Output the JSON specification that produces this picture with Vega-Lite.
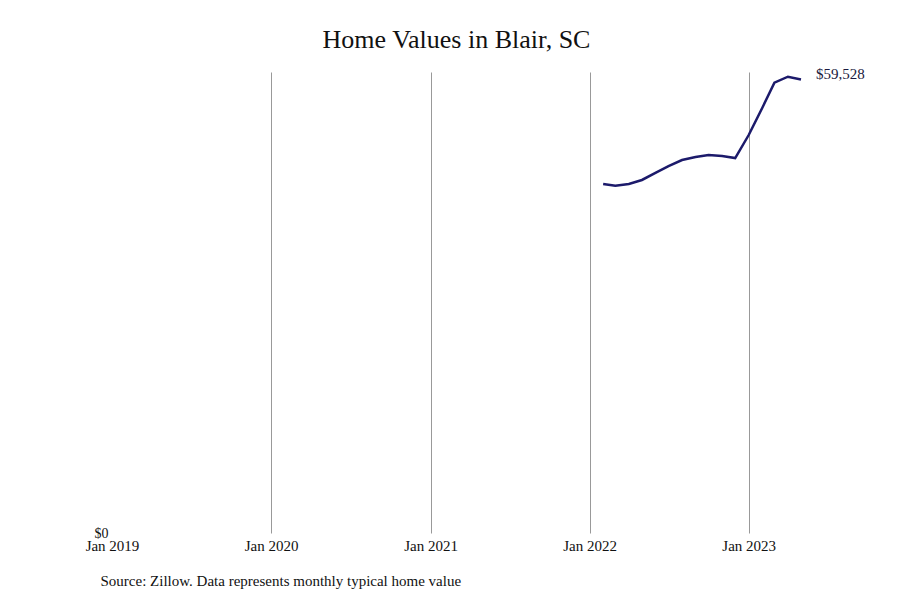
{
  "$schema": "https://vega.github.io/schema/vega-lite/v6.json",
  "autosize": "none",
  "padding": {"left": 112, "top": 72, "right": 99, "bottom": 67},
  "width": 689,
  "height": 461,
  "background": "white",
  "title": {
    "text": "Home Values in Blair, SC",
    "font": "Liberation Serif",
    "fontSize": 26,
    "fontWeight": "normal",
    "color": "#111111",
    "anchor": "middle",
    "offset": 14
  },
  "data": {
    "values": [
      {"date": "2022-02-01", "value": 45800},
      {"date": "2022-03-01", "value": 45580},
      {"date": "2022-04-01", "value": 45800},
      {"date": "2022-05-01", "value": 46330},
      {"date": "2022-06-01", "value": 47250},
      {"date": "2022-07-01", "value": 48160},
      {"date": "2022-08-01", "value": 48950},
      {"date": "2022-09-01", "value": 49350},
      {"date": "2022-10-01", "value": 49610},
      {"date": "2022-11-01", "value": 49480},
      {"date": "2022-12-01", "value": 49210},
      {"date": "2023-01-01", "value": 52230},
      {"date": "2023-02-01", "value": 55780},
      {"date": "2023-03-01", "value": 59100},
      {"date": "2023-04-01", "value": 59880},
      {"date": "2023-05-01", "value": 59528, "label": "$59,528"}
    ]
  },
  "encoding": {
    "x": {
      "field": "date",
      "type": "temporal",
      "scale": {"domain": ["2019-01-01", "2023-05-01"]},
      "axis": {
        "values": ["2019-01-01", "2020-01-01", "2021-01-01", "2022-01-01", "2023-01-01"],
        "format": "%b %Y",
        "labelFont": "Liberation Serif",
        "labelFontSize": 15,
        "labelColor": "#111111",
        "labelPadding": 5,
        "labelBaseline": "top",
        "labelFlush": false,
        "labelOverlap": false,
        "ticks": false,
        "domain": false,
        "grid": true,
        "gridColor": {
          "condition": {"test": "year(datum.value) == 2019", "value": "transparent"},
          "value": "#999999"
        },
        "gridWidth": 1,
        "gridOpacity": 1,
        "title": "Source: Zillow. Data represents monthly typical home value",
        "titleFont": "Liberation Serif",
        "titleFontSize": 15,
        "titleFontWeight": "normal",
        "titleColor": "#111111",
        "titleAnchor": "start",
        "titleAlign": "left",
        "titleBaseline": "middle",
        "titleX": -12,
        "titleY": 47
      }
    },
    "y": {
      "field": "value",
      "type": "quantitative",
      "scale": {"domain": [0, 60500], "nice": false},
      "axis": {
        "values": [0],
        "format": "$,.0f",
        "labelFont": "Liberation Serif",
        "labelFontSize": 14,
        "labelColor": "#111111",
        "labelPadding": 4,
        "ticks": false,
        "domain": false,
        "grid": false,
        "title": null
      }
    }
  },
  "layer": [
    {
      "mark": {"type": "line", "color": "#1c1a6b", "strokeWidth": 2.5}
    },
    {
      "transform": [{"filter": "datum.label != null"}],
      "mark": {
        "type": "text",
        "align": "left",
        "baseline": "middle",
        "dx": 15,
        "dy": -5,
        "font": "Liberation Serif",
        "fontSize": 15,
        "color": "#1a1a40"
      },
      "encoding": {"text": {"field": "label"}}
    }
  ],
  "config": {"view": {"stroke": null}}
}
